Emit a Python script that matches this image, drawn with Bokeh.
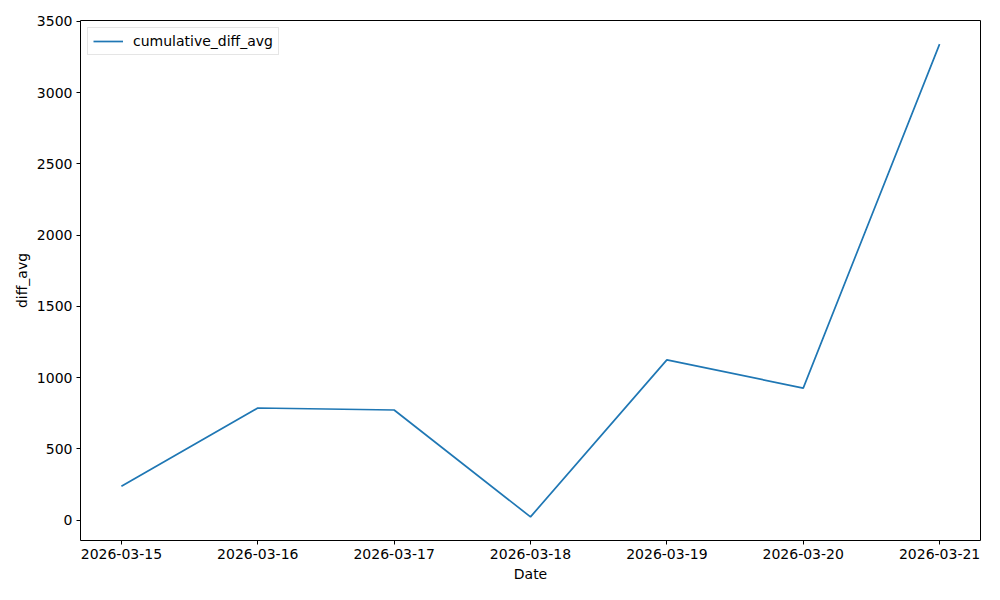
from datetime import datetime
from bokeh.plotting import figure
from bokeh.models import Range1d, FixedTicker, DatetimeTickFormatter
from bokeh.embed import file_html
from bokeh.resources import INLINE

dates = ["2026-03-15", "2026-03-16", "2026-03-17", "2026-03-18",
         "2026-03-19", "2026-03-20", "2026-03-21"]
cumulative_diff_avg = [238, 787, 773, 23, 1125, 927, 3341]
y_ticks = [0, 500, 1000, 1500, 2000, 2500, 3000, 3500]

x = [datetime.strptime(d, "%Y-%m-%d") for d in dates]
x_ms = [dt.timestamp() * 1000 for dt in x]

span = x_ms[-1] - x_ms[0]
x_pad = span * 0.05
ymin, ymax = min(cumulative_diff_avg), max(cumulative_diff_avg)
y_pad = (ymax - ymin) * 0.05

p = figure(width=984, height=584, x_axis_type="datetime",
           output_backend="svg", toolbar_location=None,
           x_range=Range1d(x_ms[0] - x_pad, x_ms[-1] + x_pad),
           y_range=Range1d(ymin - y_pad, ymax + y_pad),
           min_border_left=80, min_border_right=4,
           min_border_top=20, min_border_bottom=42)

p.line(x, cumulative_diff_avg, line_color="#1f77b4", line_width=1.7,
       legend_label="cumulative_diff_avg")

p.xgrid.visible = False
p.ygrid.visible = False
p.outline_line_color = "black"
p.outline_line_alpha = 1
p.outline_line_width = 1
p.background_fill_color = "white"
p.border_fill_color = "white"

p.xaxis.ticker = FixedTicker(ticks=x_ms)
fmt = "%Y-%m-%d"
p.xaxis.formatter = DatetimeTickFormatter(
    milliseconds=fmt, seconds=fmt, minsec=fmt, minutes=fmt, hourmin=fmt,
    hours=fmt, days=fmt, months=fmt, years=fmt)
p.yaxis.ticker = FixedTicker(ticks=y_ticks)

p.xaxis.axis_label = "Date"
p.yaxis.axis_label = "diff_avg"

for ax in (p.xaxis[0], p.yaxis[0]):
    ax.axis_line_color = None
    ax.major_tick_in = 0
    ax.major_tick_out = 4
    ax.major_tick_line_color = "black"
    ax.minor_tick_line_color = None
    ax.major_label_text_font = "DejaVu Sans"
    ax.major_label_text_font_size = "14px"
    ax.major_label_text_color = "black"
    ax.major_label_standoff = 4
    ax.axis_label_text_font = "DejaVu Sans"
    ax.axis_label_text_font_size = "14px"
    ax.axis_label_text_font_style = "normal"
    ax.axis_label_text_color = "black"
    ax.axis_label_standoff = 4

p.legend.location = "top_left"
p.legend.margin = 7
p.legend.padding = 5
p.legend.spacing = 0
p.legend.glyph_width = 30
p.legend.glyph_height = 14
p.legend.label_standoff = 10
p.legend.label_text_font = "DejaVu Sans"
p.legend.label_text_font_size = "14px"
p.legend.label_text_color = "black"
p.legend.label_height = 14
p.legend.border_line_color = "#cccccc"
p.legend.border_line_width = 1
p.legend.background_fill_alpha = 0.8

open("out.html", "w").write(file_html(p, INLINE))
